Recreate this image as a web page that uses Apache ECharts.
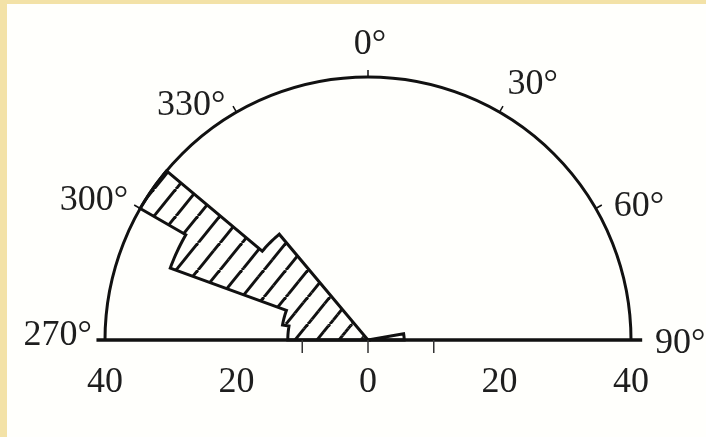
<!DOCTYPE html>
<html>
<head>
<meta charset="utf-8">
<script src="https://cdn.jsdelivr.net/npm/echarts@6/dist/echarts.min.js"></script>
<style>
  html, body { margin: 0; padding: 0; background: #fffffc; }
  #chart { width: 706px; height: 437px; background: #fffffc; box-shadow: inset 7px 4px 0 #f3e2a7; }
</style>
</head>
<body>
<div id="chart"></div>
<script>
// Strike directions in 10° bins: bin start (compass degrees) and count per bin
const binStarts = [270, 280, 290, 300, 310, 80];
const binCounts = [12.2, 13.2, 32, 40, 21, 5.5];
const binWidth = 10;

// Compass labels round the half circle
const angleTicks = [270, 300, 330, 0, 30, 60, 90];

// Scale along the base line (negative = west half, positive = east half)
const baseTicks = [-10, 0, 10];
const baseLabels = [-40, -20, 0, 20, 40];
const radiusMax = 40;

const INK = '#111';
const TEXT = '#1e1e1e';
const FONT = '36px "Liberation Serif", "DejaVu Serif", serif';

// compass bearing -> signed angle on the half-circle axis (-90 .. 90)
const toAxis = a => (a >= 180 ? a - 360 : a);

// diagonal hatch tile
function makeHatch() {
  const W = 22, H = 27;
  const c = document.createElement('canvas');
  c.width = W; c.height = H;
  const g = c.getContext('2d');
  g.strokeStyle = INK;
  g.lineWidth = 3;
  for (let k = -1; k <= 1; k++) {
    g.beginPath();
    g.moveTo(k * W, H);
    g.lineTo((k + 1) * W, 0);
    g.stroke();
  }
  return c;
}
const hatch = makeHatch();

function arcPoints(api, r, a0, a1) {
  const n = Math.max(2, Math.ceil(Math.abs(a1 - a0)) + 1);
  const pts = [];
  for (let i = 0; i < n; i++) {
    const a = a0 + (a1 - a0) * i / (n - 1);
    pts.push(api.coord([r, a]));
  }
  return pts;
}

const binData = binStarts.map((s, i) => [binCounts[i], toAxis(s), toAxis(s) + binWidth]);

// contiguous runs of bins share one outline
function binGroups() {
  const bins = binData.map(d => ({ r: d[0], a0: d[1], a1: d[2] })).sort((p, q) => p.a0 - q.a0);
  const groups = [];
  bins.forEach(b => {
    const last = groups.length ? groups[groups.length - 1] : null;
    if (last && Math.abs(last[last.length - 1].a1 - b.a0) < 1e-6) last.push(b);
    else groups.push([b]);
  });
  return groups;
}

// placement of compass labels relative to the rim point
const angleLabelPlacement = {
  0:   { align: 'center', dx: 2,   dy: -32 },
  30:  { align: 'left',   dx: 8,   dy: -28 },
  60:  { align: 'left',   dx: 18,  dy: -2 },
  90:  { align: 'left',   dx: 24,  dy: 4 },
  270: { align: 'right',  dx: -13, dy: -4 },
  300: { align: 'right',  dx: -12, dy: -8 },
  330: { align: 'right',  dx: -11, dy: -7 }
};

const chart = echarts.init(document.getElementById('chart'), null, { renderer: 'canvas' });

chart.setOption({
  backgroundColor: 'transparent',
  animation: false,
  polar: { center: [368, 340], radius: 263 },
  angleAxis: {
    type: 'value',
    min: -90,
    max: 90,
    interval: 30,
    startAngle: 180,
    endAngle: 0,
    clockwise: true,
    axisLine: { lineStyle: { color: INK, width: 3 } },
    axisTick: { show: true, inside: false, length: 7, lineStyle: { color: INK, width: 1.5 } },
    axisLabel: { show: false },
    splitLine: { show: false }
  },
  radiusAxis: {
    type: 'value',
    min: 0,
    max: radiusMax,
    axisLine: { show: false },
    axisTick: { show: false },
    axisLabel: { show: false },
    splitLine: { show: false }
  },
  series: [
    {
      // hatched sectors
      type: 'custom',
      coordinateSystem: 'polar',
      data: binData,
      z: 2,
      renderItem(params, api) {
        const r = api.value(0), a0 = api.value(1), a1 = api.value(2);
        const pts = [api.coord([0, a0])].concat(arcPoints(api, r, a0, a1));
        return {
          type: 'polygon',
          shape: { points: pts },
          style: { fill: { image: hatch, repeat: 'repeat' }, stroke: null }
        };
      }
    },
    {
      // outline of each run of bins
      type: 'custom',
      coordinateSystem: 'polar',
      data: [[0, 0]],
      z: 3,
      renderItem(params, api) {
        const children = binGroups().map(group => {
          const c = api.coord([0, group[0].a0]);
          let pts = [c];
          group.forEach(b => { pts = pts.concat(arcPoints(api, b.r, b.a0, b.a1)); });
          return {
            type: 'polygon',
            shape: { points: pts },
            style: { fill: 'transparent', stroke: INK, lineWidth: 3, lineJoin: 'miter' }
          };
        });
        return { type: 'group', children };
      }
    },
    {
      // base line with its scale
      type: 'custom',
      coordinateSystem: 'polar',
      data: [[0, 0]],
      z: 4,
      renderItem(params, api) {
        const p = v => api.coord([Math.abs(v), v < 0 ? -90 : 90]);
        const left = p(-41.3), right = p(41.7);
        const children = [{
          type: 'line',
          shape: { x1: left[0], y1: left[1], x2: right[0], y2: right[1] },
          style: { stroke: INK, lineWidth: 3.5 }
        }];
        baseTicks.forEach(v => {
          const q = p(v);
          children.push({
            type: 'line',
            shape: { x1: q[0], y1: q[1], x2: q[0], y2: q[1] + 13 },
            style: { stroke: '#333', lineWidth: 1.5 }
          });
        });
        baseLabels.forEach(v => {
          const q = p(v);
          children.push({
            type: 'text',
            x: q[0], y: q[1] + 43,
            style: { text: String(Math.abs(v)), font: FONT, fill: TEXT, align: 'center', verticalAlign: 'middle' }
          });
        });
        return { type: 'group', children };
      }
    },
    {
      // compass labels
      type: 'custom',
      coordinateSystem: 'polar',
      data: [[0, 0]],
      z: 4,
      renderItem(params, api) {
        const children = angleTicks.map(a => {
          const q = api.coord([radiusMax, toAxis(a)]);
          const pl = angleLabelPlacement[a];
          return {
            type: 'text',
            x: q[0] + pl.dx, y: q[1] + pl.dy,
            style: { text: a + '°', font: FONT, fill: TEXT, align: pl.align, verticalAlign: 'middle' }
          };
        });
        return { type: 'group', children };
      }
    }
  ]
});
</script>
</body>
</html>
